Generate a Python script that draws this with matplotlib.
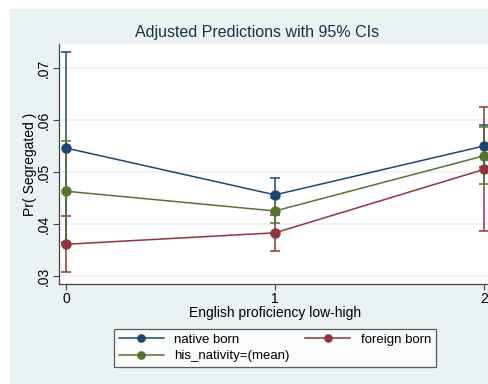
import numpy as np
import matplotlib
matplotlib.use("Agg")
import matplotlib.pyplot as plt
from matplotlib.patches import Rectangle

plt.rcParams['font.family'] = ['Liberation Sans', 'DejaVu Sans']

# English proficiency levels
levels = [0, 1, 2]
series = ["native born", "foreign born", "his_nativity=(mean)"]

native_mean = [0.0546, 0.0456, 0.0550]
native_lo = [0.0361, 0.0423, 0.0509]
native_hi = [0.0731, 0.0489, 0.0591]

foreign_mean = [0.0361, 0.0383, 0.0505]
foreign_lo = [0.0307, 0.0349, 0.0387]
foreign_hi = [0.0415, 0.0417, 0.0624]

avg_mean = [0.0463, 0.0425, 0.0531]
avg_lo = [0.0366, 0.0401, 0.0476]
avg_hi = [0.0560, 0.0449, 0.0586]

yticks = [0.03, 0.04, 0.05, 0.06, 0.07]
ytick_labels = [".03", ".04", ".05", ".06", ".07"]

colors = ["#1a476f", "#90353b", "#55752f"]
bg = "#eaf2f3"

W, H = 488, 384
fig = plt.figure(figsize=(W / 100, H / 100), dpi=100)
fig.patch.set_facecolor("white")
fig.patches.append(Rectangle((10 / W, 0), 1, 1 - 9 / H, transform=fig.transFigure,
                             facecolor=bg, edgecolor="none", zorder=-10))

left, right_px, top, bottom = 59, 494.5, 44, 284
ax = fig.add_axes([left / W, 1 - bottom / H, (right_px - left) / W, (bottom - top) / H])
ax.set_facecolor("white")

data = [(native_mean, native_lo, native_hi),
        (foreign_mean, foreign_lo, foreign_hi),
        (avg_mean, avg_lo, avg_hi)]

for (m, lo, hi), c in zip(data, colors):
    m = np.array(m)
    err = [m - np.array(lo), np.array(hi) - m]
    ax.errorbar(levels, m, yerr=err, fmt="none", ecolor=c, elinewidth=1.1,
                capsize=3.5, capthick=1.1, zorder=2)

handles = []
for (m, lo, hi), c, name in zip(data, colors, series):
    h, = ax.plot(levels, m, color=c, lw=1.1, marker="o", ms=6.5,
                 markerfacecolor=c, markeredgecolor=c, label=name, zorder=3)
    handles.append(h)

ax.set_xlim(-0.0335, 2.05)
ax.set_ylim(0.02846, 0.0746)
ax.set_yticks(yticks)
ax.set_yticklabels(ytick_labels, rotation=90, va="center", fontsize=10)
ax.set_xticks(levels)
ax.set_xticklabels([str(v) for v in levels], fontsize=10)
ax.yaxis.grid(True, color=bg, lw=1.2)
ax.set_axisbelow(True)
for s in ["top", "right"]:
    ax.spines[s].set_visible(False)
for s in ["left", "bottom"]:
    ax.spines[s].set_color("#444444")
    ax.spines[s].set_linewidth(0.9)
ax.tick_params(direction="out", length=4, width=0.8, color="#444444", pad=2)

fig.text(257 / W, 1 - 33 / H, "Adjusted Predictions with 95% CIs", ha="center",
         va="center", fontsize=11.5, color="#1e2f4d")
fig.text(30 / W, 1 - 164 / H, "Pr( Segregated )", rotation=90, ha="center",
         va="center", fontsize=10)
fig.text(275 / W, 1 - 313 / H, "English proficiency low-high", ha="center",
         va="center", fontsize=10)

# column-wise fill: native, mean | foreign
order = [0, 2, 1]
leg = fig.legend([handles[i] for i in order], [series[i] for i in order],
                 loc="center", ncol=2,
                 bbox_to_anchor=(275 / W, 1 - 348 / H), fontsize=9.5,
                 frameon=True, fancybox=False, edgecolor="#333333",
                 handlelength=3.4, columnspacing=1.2, labelspacing=0.3,
                 borderpad=0.35, handletextpad=0.8, markerscale=0.8)
leg.get_frame().set_linewidth(0.9)

fig.savefig("out.png", dpi=100)
